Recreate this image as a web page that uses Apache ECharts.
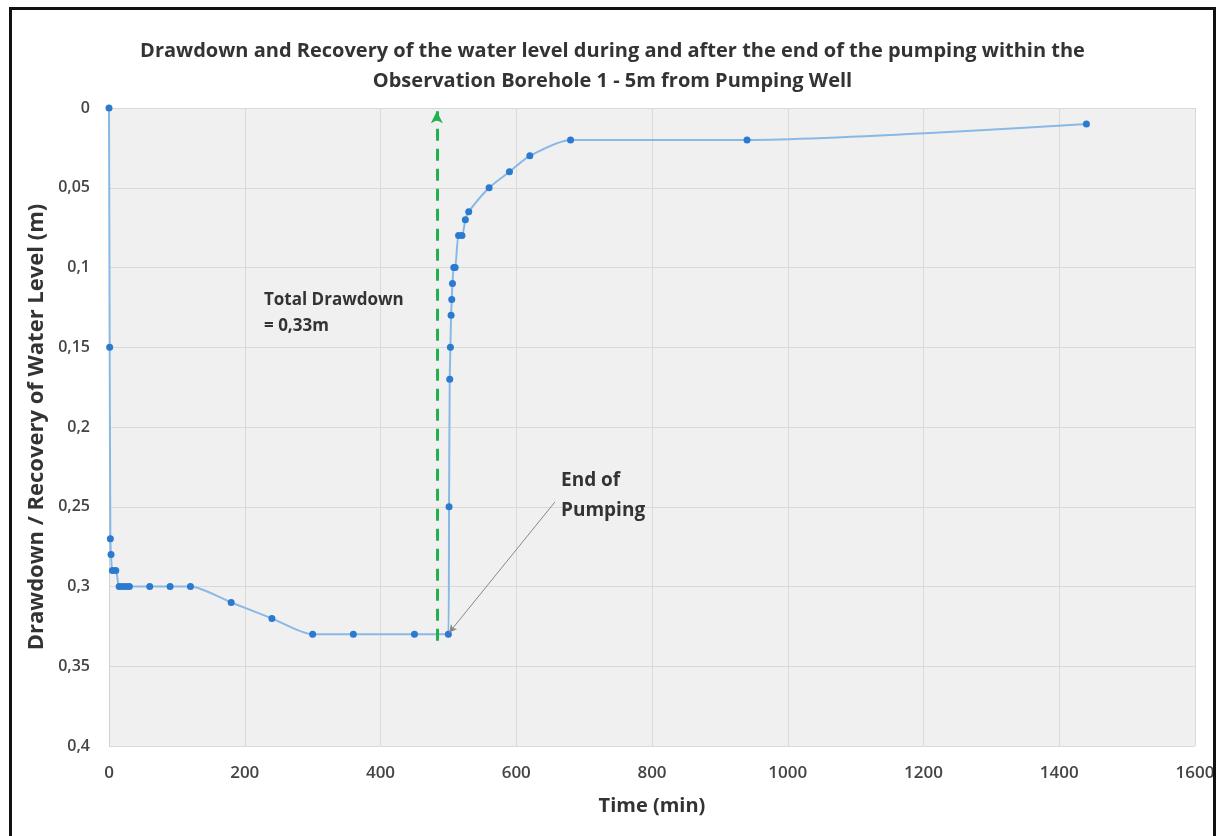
<!DOCTYPE html>
<html>
<head>
<meta charset="utf-8">
<script src="https://cdn.jsdelivr.net/npm/echarts@6/dist/echarts.min.js"></script>
<style>
html,body{margin:0;padding:0;background:#fff;}
#chart{width:1225px;height:836px;position:absolute;left:0;top:0;}
#frame{position:absolute;left:9px;top:7px;width:1207px;height:840px;border:3px solid #111;box-sizing:border-box;pointer-events:none;}
</style>
</head>
<body>
<div id="chart"></div>
<div id="frame"></div>
<script>
// Time (min)
const times = [0, 1, 2, 3, 5, 10, 15, 20, 25, 30, 60, 90, 120, 180, 240, 300, 360, 450, 500,
  501, 502, 503, 504, 505, 506, 508, 510, 515, 520, 525, 530, 560, 590, 620, 680, 940, 1440];
// Drawdown / recovery (m)
const levels = [0, 0.15, 0.27, 0.28, 0.29, 0.29, 0.30, 0.30, 0.30, 0.30, 0.30, 0.30, 0.30, 0.31, 0.32, 0.33, 0.33, 0.33, 0.33,
  0.25, 0.17, 0.15, 0.13, 0.12, 0.11, 0.10, 0.10, 0.08, 0.08, 0.07, 0.065, 0.05, 0.04, 0.03, 0.02, 0.02, 0.01];
// Annotation anchors (data units)
const arrowTime = 483;
const arrowFrom = 0.334;
const arrowTo = 0.002;
const leaderFrom = [657, 0.247];
const leaderTo = [501, 0.329];
const title = 'Drawdown and Recovery of the water level during and after the end of the pumping within the\nObservation Borehole 1 - 5m from Pumping Well';

const font = 'Open Sans';
const chart = echarts.init(document.getElementById('chart'));
const fmtY = v => parseFloat(v.toFixed(2)).toString().replace('.', ',');
const fmtX = v => String(v);

chart.setOption({
  animation: false,
  title: {
    text: title, left: 'center', top: 31,
    textStyle: {fontFamily: font, fontSize: 20, fontWeight: 'bold', color: '#333', lineHeight: 30}
  },
  grid: {left: 109, right: 30, top: 108, bottom: 90, show: true, backgroundColor: '#f0f0f0', borderWidth: 0},
  xAxis: {
    type: 'value', min: 0, max: 1600, interval: 200,
    name: 'Time (min)', nameLocation: 'middle', nameGap: 50,
    nameTextStyle: {fontFamily: font, fontSize: 20, fontWeight: 'bold', color: '#333'},
    axisLine: {show: false}, axisTick: {show: false},
    axisLabel: {fontFamily: font, fontSize: 17, fontWeight: 600, color: '#444', margin: 19, formatter: fmtX},
    splitLine: {lineStyle: {color: '#d9d9d9', width: 1}}
  },
  yAxis: {
    type: 'value', inverse: true, min: 0, max: 0.4, interval: 0.05,
    name: 'Drawdown / Recovery of Water Level (m)', nameLocation: 'middle', nameGap: 54,
    nameTextStyle: {fontFamily: font, fontSize: 22, fontWeight: 'bold', color: '#333'},
    axisLine: {show: true, lineStyle: {color: '#d0d0d0'}}, axisTick: {show: false},
    axisLabel: {fontFamily: font, fontSize: 16, fontWeight: 600, color: '#444', margin: 19, formatter: fmtY},
    splitLine: {lineStyle: {color: '#d9d9d9', width: 1}}
  },
  series: [{
    type: 'line',
    data: times.map((t, i) => [t, levels[i]]),
    smooth: 0.25,
    symbol: 'circle', symbolSize: 7,
    itemStyle: {color: '#2a7ad0'},
    lineStyle: {color: '#8ab8e6', width: 2},
    markLine: {
      silent: true,
      label: {show: false},
      data: [
        [{coord: [arrowTime, arrowFrom], symbol: 'none', lineStyle: {color: '#22b24c', width: 3, type: [12, 8]}},
         {coord: [arrowTime, arrowTo], symbol: 'arrow', symbolSize: [9, 12]}],
        [{coord: leaderFrom, symbol: 'none', lineStyle: {color: '#888', width: 1, type: 'solid'}},
         {coord: leaderTo, symbol: 'arrow', symbolSize: [6, 8], itemStyle: {color: '#111'}}]
      ]
    }
  }],
  graphic: [
    {type: 'text', left: 264, top: 287, z: 10, style: {text: 'Total Drawdown\n= 0,33m', fontFamily: font, fontSize: 17, fontWeight: 'bold', fill: '#333', lineHeight: 26}},
    {type: 'text', left: 561, top: 466, z: 10, style: {text: 'End of\nPumping', fontFamily: font, fontSize: 19, fontWeight: 'bold', fill: '#333', lineHeight: 30}}
  ]
});
</script>
</body>
</html>
